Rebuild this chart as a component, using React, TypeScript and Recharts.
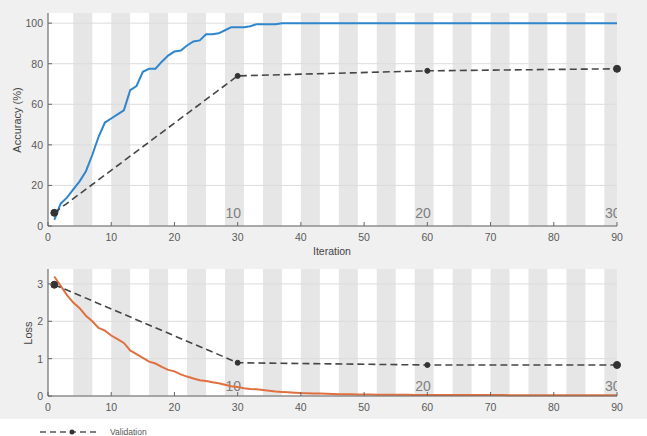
import React from 'react';
import { LineChart, Line, XAxis, YAxis, CartesianGrid, ReferenceArea, ReferenceLine } from 'recharts';

const trainAcc = [
  3, 11, 14, 18, 22, 27, 35, 44, 51, 53,
  55, 57, 67, 69, 76, 77.5, 77.5, 81, 84, 86,
  86.5, 89, 91, 91.5, 94.5, 94.5, 95, 96.5, 98, 98,
  98, 98.5, 99.5, 99.5, 99.5, 99.5, 100, 100, 100, 100,
  100, 100, 100, 100, 100, 100, 100, 100, 100, 100,
  100, 100, 100, 100, 100, 100, 100, 100, 100, 100,
  100, 100, 100, 100, 100, 100, 100, 100, 100, 100,
  100, 100, 100, 100, 100, 100, 100, 100, 100, 100,
  100, 100, 100, 100, 100, 100, 100, 100, 100, 100,
];

const trainLoss = [
  3.2, 2.95, 2.7, 2.5, 2.35, 2.15, 2.0, 1.82, 1.75, 1.62,
  1.52, 1.42, 1.22, 1.12, 1.02, 0.92, 0.87, 0.78, 0.7, 0.66,
  0.58, 0.52, 0.47, 0.42, 0.4, 0.37, 0.34, 0.3, 0.26, 0.24,
  0.21, 0.19, 0.18, 0.16, 0.14, 0.12, 0.11, 0.1, 0.09, 0.08,
  0.075, 0.07, 0.065, 0.06, 0.055, 0.05, 0.048, 0.045, 0.042, 0.04,
  0.038, 0.036, 0.035, 0.034, 0.033, 0.032, 0.031, 0.03, 0.03, 0.03,
  0.029, 0.028, 0.028, 0.027, 0.027, 0.026, 0.026, 0.025, 0.025, 0.025,
  0.024, 0.024, 0.023, 0.023, 0.023, 0.022, 0.022, 0.022, 0.021, 0.021,
  0.021, 0.02, 0.02, 0.02, 0.02, 0.02, 0.02, 0.02, 0.02, 0.02,
];

const valIters = [1, 30, 60, 90];
const valAcc = [6.5, 74, 76.5, 77.5];
const valLoss = [2.98, 0.89, 0.83, 0.83];

const epochBandStarts = [4, 10, 16, 22, 28, 34, 40, 46, 52, 58, 64, 70, 76, 82, 88];
const epochLabelIters = [30, 60, 90];
const epochLabels = ['10', '20', '30'];

const xTicks = [0, 10, 20, 30, 40, 50, 60, 70, 80, 90];
const accTicks = [0, 20, 40, 60, 80, 100];
const lossTicks = [0, 1, 2, 3];

const data = trainAcc.map((a, i) => {
  const it = i + 1;
  const vi = valIters.indexOf(it);
  return {
    it,
    acc: a,
    loss: trainLoss[i],
    vacc: vi >= 0 ? valAcc[vi] : null,
    vloss: vi >= 0 ? valLoss[vi] : null,
  };
});

const FONT = '"Liberation Sans", Arial, Helvetica, sans-serif';
const TICK_COLOR = '#5a5a5a';

const XTick = (props: any) => {
  const { x, y, payload } = props;
  return (
    <g>
      <line x1={x} y1={y} x2={x} y2={y - 4} stroke="#666" strokeWidth={1} />
      <text x={x} y={y + 15} textAnchor="middle" fontSize={10.5} fill={TICK_COLOR} fontFamily={FONT}>
        {payload.value}
      </text>
    </g>
  );
};

const YTick = (props: any) => {
  const { x, y, payload } = props;
  return (
    <g>
      <line x1={x} y1={y} x2={x + 4} y2={y} stroke="#666" strokeWidth={1} />
      <text x={x - 5} y={y + 4} textAnchor="end" fontSize={10.5} fill={TICK_COLOR} fontFamily={FONT}>
        {payload.value}
      </text>
    </g>
  );
};

const makeEpochLabel = (text: string, idx: number, above: number, last: boolean) => (props: any) => {
  const vb = props.viewBox || {};
  const bx = vb.x;
  const by = vb.y + vb.height - above;
  const cid = `epclip-${idx}-${above}`;
  return (
    <g>
      <defs>
        <clipPath id={cid}>
          <rect x={bx - 40} y={by - 20} width={last ? 40 : 50} height={30} />
        </clipPath>
      </defs>
      <text x={bx + 3.5} y={by} textAnchor="end" fontSize={14} fill="#7f7f7f" fontFamily={FONT} clipPath={`url(#${cid})`}>
        {text}
      </text>
    </g>
  );
};

const ValDot = (props: any) => {
  const { cx, cy, value, index } = props;
  if (value === null || value === undefined || cx == null || cy == null) return <g key={`d${index}`} />;
  const r = index === 0 || index === data.length - 1 ? 3.5 : 2.5;
  return <circle key={`d${index}`} cx={cx} cy={cy} r={r} fill="#333" stroke="#333" />;
};

function bands(yMax: number) {
  return epochBandStarts.map((s) => (
    <ReferenceArea key={`b${s}`} x1={s} x2={Math.min(s + 3, 90)} y1={0} y2={yMax} fill="#e6e6e6" fillOpacity={1} stroke="none" ifOverflow="hidden" />
  ));
}

function gridLines(ticks: number[]) {
  return ticks.map((t) => (
    <ReferenceLine key={`g${t}`} y={t} stroke="#dcdcdc" strokeWidth={1} />
  ));
}

function epochMarks(above: number) {
  return epochLabelIters.map((it, i) => (
    <ReferenceLine
      key={`e${it}`}
      x={it}
      stroke="none"
      label={makeEpochLabel(epochLabels[i], i, above, i === epochLabelIters.length - 1)}
    />
  ));
}

export default function App() {
  return (
    <div style={{ position: 'absolute', left: 0, top: 0, width: 647, height: 436, background: '#f0f0f0', overflow: 'hidden', fontFamily: FONT }}>
      <div style={{ position: 'absolute', left: 0, top: 419, width: 647, height: 17, background: '#ffffff' }} />
      <div style={{ position: 'absolute', left: 0, top: 0 }}>
        <LineChart width={647} height={260} data={data} margin={{ top: 13, right: 30, bottom: 14, left: 18 }}>
          <CartesianGrid fill="#ffffff" stroke="none" />
          {bands(105)}
          {gridLines(accTicks)}
          <XAxis dataKey="it" type="number" domain={[0, 90]} ticks={xTicks} height={20} axisLine={{ stroke: '#666' }} tickLine={false} tickSize={0} tickMargin={0} tick={<XTick />} interval={0} />
          <YAxis type="number" domain={[0, 105]} ticks={accTicks} width={30} axisLine={{ stroke: '#555' }} tickLine={false} tickSize={0} tickMargin={0} tick={<YTick />} interval={0} />
          {epochMarks(8)}
          <Line dataKey="acc" stroke="#2f86cc" strokeWidth={2} dot={false} isAnimationActive={false} type="linear" />
          <Line dataKey="vacc" stroke="#454545" strokeWidth={1.6} strokeDasharray="7 4" connectNulls dot={<ValDot />} isAnimationActive={false} type="linear" />
        </LineChart>
      </div>
      <div style={{ position: 'absolute', left: 0, top: 260 }}>
        <LineChart width={647} height={160} data={data} margin={{ top: 9, right: 30, bottom: 4, left: 18 }}>
          <CartesianGrid fill="#ffffff" stroke="none" />
          {bands(3.4)}
          {gridLines(lossTicks)}
          <XAxis dataKey="it" type="number" domain={[0, 90]} ticks={xTicks} height={20} axisLine={{ stroke: '#666' }} tickLine={false} tickSize={0} tickMargin={0} tick={<XTick />} interval={0} />
          <YAxis type="number" domain={[0, 3.4]} ticks={lossTicks} width={30} axisLine={{ stroke: '#555' }} tickLine={false} tickSize={0} tickMargin={0} tick={<YTick />} interval={0} />
          {epochMarks(5)}
          <Line dataKey="loss" stroke="#e0703f" strokeWidth={2} dot={false} isAnimationActive={false} type="linear" />
          <Line dataKey="vloss" stroke="#454545" strokeWidth={1.6} strokeDasharray="7 4" connectNulls dot={<ValDot />} isAnimationActive={false} type="linear" />
        </LineChart>
      </div>
      <svg width={647} height={436} style={{ position: 'absolute', left: 0, top: 0, pointerEvents: 'none' }}>
        <text x={0} y={0} transform="translate(21,120) rotate(-90)" textAnchor="middle" fontSize={11} fill="#444" fontFamily={FONT}>Accuracy (%)</text>
        <text x={0} y={0} transform="translate(32,333) rotate(-90)" textAnchor="middle" fontSize={11} fill="#444" fontFamily={FONT}>Loss</text>
        <text x={332} y={255} textAnchor="middle" fontSize={10.5} fill="#444" fontFamily={FONT}>Iteration</text>
        <line x1={40} y1={432} x2={100} y2={432} stroke="#555" strokeWidth={1.5} strokeDasharray="6 4" />
        <circle cx={72} cy={432} r={2.5} fill="#333" />
        <text x={110} y={435} fontSize={8.5} fill="#555" fontFamily={FONT}>Validation</text>
      </svg>
    </div>
  );
}
